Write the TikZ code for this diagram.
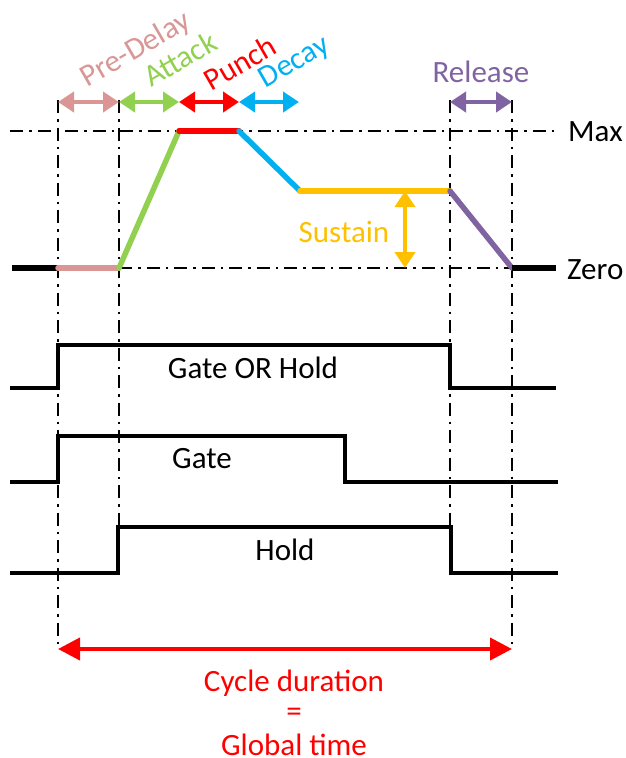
\documentclass[tikz,border=0pt]{standalone}
\usepackage{fontspec}
\setmainfont{Carlito}
\usetikzlibrary{arrows.meta}
\definecolor{cpre}{RGB}{217,150,148}
\definecolor{catt}{RGB}{146,208,80}
\definecolor{cpun}{RGB}{255,0,0}
\definecolor{cdec}{RGB}{0,176,240}
\definecolor{csus}{RGB}{255,192,0}
\definecolor{crel}{RGB}{128,100,162}
\begin{document}
\begin{tikzpicture}[x=1pt,y=-1pt,
  guide/.style={line width=2.8pt, dash pattern=on 13pt off 6pt on 2.5pt off 6pt},
  env/.style={line width=5.5pt, line cap=round},
  flat/.style={line width=6.5pt},
  sig/.style={line width=4pt},
  dbl/.style={line width=4.5pt, {Triangle[length=16pt,width=20pt]}-{Triangle[length=16pt,width=20pt]}},
  bigdbl/.style={line width=4pt, {Triangle[length=22pt,width=22pt]}-{Triangle[length=22pt,width=22pt]}},
  lbl/.style={font=\fontsize{31}{36}\selectfont, inner sep=0pt},
  rlbl/.style={lbl, rotate=30}]
\useasboundingbox (0,0) rectangle (626,758);
% key points
\coordinate (z0) at (12,268);
\coordinate (a0) at (58,268);
\coordinate (a1) at (119,268);
\coordinate (p0) at (179,131);
\coordinate (p1) at (239,131);
\coordinate (s0) at (300,191);
\coordinate (s1) at (450,191);
\coordinate (r1) at (512,268);
\coordinate (z1) at (556,268);
% guides
\draw[guide] (10,131) -- (556,131);
\draw[guide] (a1) -- (r1);
\draw[guide] (58,100) -- (58,645);
\draw[guide] (119,100) -- (119,527);
\draw[guide] (450,100) -- (450,527);
\draw[guide] (512,100) -- (512,645);
% envelope
\draw[flat] (z0) -- (a0);
\draw[env, cpre] (a0) -- (a1);
\draw[env, catt] (a1) -- (p0);
\draw[env, cpun] (p0) -- (p1);
\draw[env, cdec] (p1) -- (s0);
\draw[env, csus] (s0) -- (s1);
\draw[env, crel] (s1) -- (r1);
\draw[flat] (r1) -- (z1);
% phase arrows
\coordinate (t0) at (58,102);
\coordinate (t1) at (119,102);
\coordinate (t2) at (179,102);
\coordinate (t3) at (239,102);
\coordinate (t4) at (299,102);
\coordinate (t5) at (450,102);
\coordinate (t6) at (512,102);
\draw[dbl, cpre] (t0) -- (t1);
\draw[dbl, catt] (t1) -- (t2);
\draw[dbl, cpun] (t2) -- (t3);
\draw[dbl, cdec] (t3) -- (t4);
\draw[dbl, crel] (t5) -- (t6);
\coordinate (su0) at (405,191);
\coordinate (su1) at (405,268);
\draw[dbl, csus] (su0) -- (su1);
% labels
\node[rlbl, cpre] (lpre) at (136,50) {Pre-Delay};
\node[rlbl, catt] (latt) at (180,59) {Attack};
\node[rlbl, cpun] (lpun) at (240,63) {Punch};
\node[rlbl, cdec] (ldec) at (295,63) {Decay};
\node[lbl, crel] (lrel) at (481,72) {Release};
\node[lbl, csus] (lsus) at (344,232) {Sustain};
\node[lbl, anchor=west] (lmax) at (568,132) {Max};
\node[lbl, anchor=west] (lzero) at (567,270) {Zero};
% signals
\draw[sig] (10,388) -- (58,388) -- (58,345) -- (450,345) -- (450,388) -- (556,388);
\draw[sig] (10,482) -- (58,482) -- (58,436) -- (345,436) -- (345,482) -- (558,482);
\draw[sig] (10,573) -- (118,573) -- (118,527) -- (451,527) -- (451,573) -- (558,573);
\node[lbl] (lgoh) at (253,368) {Gate OR Hold};
\node[lbl] (lgate) at (202,459) {Gate};
\node[lbl] (lhold) at (285,550) {Hold};
% cycle
\coordinate (c0) at (58,649);
\coordinate (c1) at (512,649);
\draw[bigdbl, red] (c0) -- (c1);
\node[lbl, red] (lcyc) at (294,683) {Cycle duration};
\node[lbl, red] (leq) at (294,715) {=};
\node[lbl, red] (lglob) at (294,745) {Global time};
\end{tikzpicture}
\end{document}
